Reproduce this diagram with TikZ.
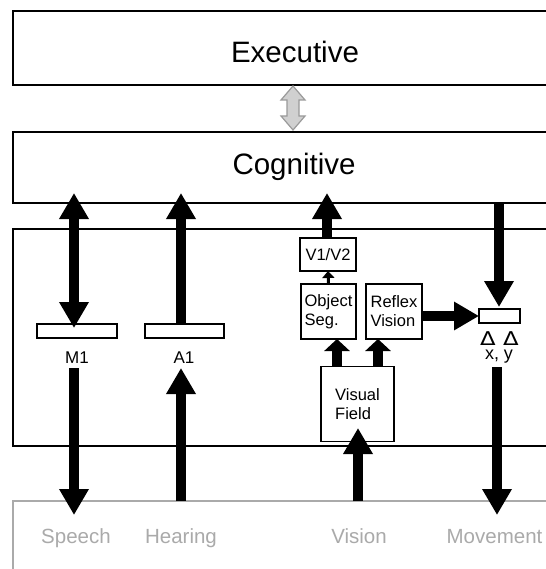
\documentclass[tikz,border=0pt]{standalone}
\usepackage{fontspec}
\setmainfont{Liberation Sans}
\newfontfamily\deltafont{DejaVu Sans}
\usetikzlibrary{arrows.meta,calc}
\definecolor{worldgray}{HTML}{AAAAAA}
\definecolor{dafill}{HTML}{D0D0D0}
\definecolor{daline}{HTML}{9A9A9A}
\begin{document}
\begin{tikzpicture}[x=1pt,y=-1pt,
  panel/.style={draw=black,line width=2pt,fill=white,inner sep=0pt,outer sep=0pt,anchor=north west,minimum width=580pt},
  wpanel/.style={panel,draw=worldgray},
  box/.style={draw=black,line width=1.8pt,fill=white,inner sep=0pt,outer sep=0pt,align=left,font=\fontsize{16.5}{19}\selectfont},
  bar/.style={draw=black,line width=1.8pt,fill=white,inner sep=0pt,outer sep=0pt,minimum height=14pt},
  bigtxt/.style={font=\fontsize{29.5}{32}\selectfont,anchor=base,inner sep=0pt},
  smalltxt/.style={font=\fontsize{17}{18}\selectfont,anchor=base,inner sep=0pt},
  deltatxt/.style={font=\deltafont\fontsize{19}{19}\selectfont,anchor=base,inner sep=0pt},
  worldtxt/.style={font=\fontsize{20.5}{22}\selectfont,anchor=base,inner sep=0pt,text=worldgray},
  bigarrow/.style={line width=10pt,-{Triangle[width=28pt,length=26pt]}},
  bigdarrow/.style={line width=10pt,{Triangle[width=28pt,length=26pt]}-{Triangle[width=28pt,length=26pt]}},
  midarrow/.style={line width=10pt,-{Triangle[width=25pt,length=12pt]}},
  thinarrow/.style={line width=3pt,-{Triangle[width=12pt,length=7pt]}}
]
\useasboundingbox (0,0) rectangle (545,569);
% panels
\node[panel,minimum height=74pt] (exec) at (13,11) {};
\node[panel,minimum height=71pt] (cog) at (13,132) {};
\node[panel,minimum height=217pt] (mid) at (13,229) {};
\node[wpanel,minimum height=100pt] (world) at (13,501) {};
\node[bigtxt] (exectxt) at (295,63) {Executive};
\node[bigtxt] (cogtxt) at (294,175) {Cognitive};
% gray double arrow
\fill[dafill,draw=daline,line width=1.2pt]
  (293,86) -- (305,100) -- (299,100) -- (299,116) -- (305,116) -- (293,130)
  -- (281,116) -- (287,116) -- (287,100) -- (281,100) -- cycle;
% inner boxes
\node[box,minimum width=56pt,minimum height=33pt,align=center] (v12) at (328,254.5) {V1/V2};
\node[box,minimum width=55pt,minimum height=55pt] (objseg) at (328.5,311.5) {Object\\Seg.};
\node[box,minimum width=56pt,minimum height=55pt] (reflex) at (394,311.5) {Reflex\\Vision};
\node[box,minimum width=73pt,minimum height=75pt] (vfield) at (357.5,404) {Visual\\Field};
\node[bar,minimum width=80pt] (m1) at (77,331) {};
\node[bar,minimum width=79pt] (a1) at (184.5,331) {};
\node[bar,minimum width=41pt] (mv) at (499.5,316) {};
% labels
\node[smalltxt] (m1lbl) at (77,363) {M1};
\node[smalltxt] (a1lbl) at (184,363) {A1};
\node[deltatxt] (dx) at (488,345) {\scalebox{1.2}[1]{Δ}};
\node[deltatxt] (dy) at (511,345) {\scalebox{1.2}[1]{Δ}};
\node[smalltxt,font=\fontsize{18}{18}\selectfont] (xylbl) at (499,359.5) {x, y};
\node[worldtxt] (speech) at (76,543) {Speech};
\node[worldtxt] (hearing) at (181,543) {Hearing};
\node[worldtxt] (vision) at (359,543) {Vision};
\node[worldtxt] (movement) at (494.5,543) {Movement};
% coordinates for arrow ends
\coordinate (m1top) at (74,193);
\coordinate (m1tip) at (74,328);
\coordinate (m1low) at (74,368);
\coordinate (speechtip) at (74,515);
\coordinate (a1top) at (181,193);
\coordinate (a1low) at (181,368);
\coordinate (v12top) at (327,193);
\coordinate (mvtip) at (499,307);
\coordinate (mvlow) at (497,367);
\coordinate (movetip) at (497,515);
\coordinate (vistip) at (358,428);
% arrows
\draw[bigdarrow] (m1tip) -- (m1top);
\draw[bigarrow] (m1low) -- (speechtip);
\draw[bigarrow] (a1.north -| a1top) -- (a1top);
\draw[bigarrow] (world.north -| a1low) -- (a1low);
\draw[bigarrow] (v12.north -| v12top) -- (v12top);
\draw[thinarrow] (objseg.north) -- (v12.south);
\draw[midarrow] (vfield.north -| 337,0) -- (objseg.south -| 337,0);
\draw[midarrow] (vfield.north -| 378,0) -- (reflex.south -| 378,0);
\draw[bigarrow] (world.north -| vistip) -- (vistip);
\draw[bigarrow] (cog.south -| mvtip) -- (mvtip);
\draw[line width=10pt,-{Triangle[width=27pt,length=25pt]}] (reflex.east |- mv.west) -- (mv.west);
\draw[bigarrow] (mvlow) -- (movetip);
\end{tikzpicture}
\end{document}
